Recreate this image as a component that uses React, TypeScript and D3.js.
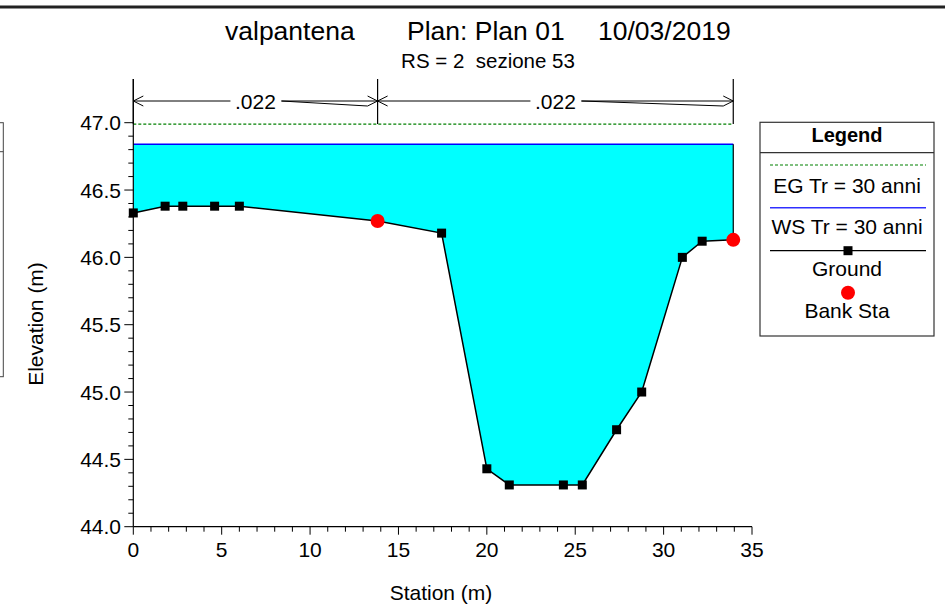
import React from "react";
import * as d3 from "d3";

const stations = [0, 1.8, 2.8, 4.6, 6.0, 13.82, 17.44, 20.0, 21.27, 24.33, 25.4, 27.34, 28.76, 31.06, 32.18, 33.94];
const elevations = [46.33, 46.38, 46.38, 46.38, 46.38, 46.27, 46.18, 44.43, 44.31, 44.31, 44.31, 44.72, 45.0, 46.0, 46.12, 46.13];
const bankStations = [13.82, 33.94];
const bankElevations = [46.27, 46.13];
const wsElevation = 46.84;
const egElevation = 46.99;
const manningStarts = [0, 13.82];
const manningEnds = [13.82, 33.94];
const manningValues = [".022", ".022"];
const xTicks = [0, 5, 10, 15, 20, 25, 30, 35];
const yTicks = [44.0, 44.5, 45.0, 45.5, 46.0, 46.5, 47.0];
const legendLabels = ["EG Tr = 30 anni", "WS Tr = 30 anni", "Ground", "Bank Sta"];

const FONT = "'Liberation Sans', Arial, sans-serif";

export default function App() {
  const x = d3.scaleLinear().domain([0, 35]).range([133.3, 752]);
  const y = d3.scaleLinear().domain([44, 47]).range([526.7, 122.7]);

  const ground = stations.map((s, i) => [s, elevations[i]] as [number, number]);
  const lineGen = d3.line<[number, number]>().x(d => x(d[0])).y(d => y(d[1]));
  const areaPts: [number, number][] = [
    [stations[0], wsElevation],
    [stations[stations.length - 1], wsElevation],
    ...ground.slice().reverse(),
  ];
  const areaPath = lineGen(areaPts) + "Z";

  const xMinor = d3.range(0, 36, 1);
  const yMinor = d3.range(0, 31).map(i => 44 + i * 0.1);

  const arrowY = 101;
  const markTop = 79;

  const lx0 = 760, lx1 = 934, lcx = (lx0 + lx1) / 2;

  return (
    <svg width={945} height={608} style={{ position: "absolute", left: 0, top: 0, background: "#fff" }} fontFamily={FONT}>
      {/* top window border */}
      <line x1={0} x2={945} y1={7} y2={7} stroke="#222" strokeWidth={3} />
      {/* cut-off panel on the left */}
      <rect x={-10} y={122.7} width={13.3} height={254} fill="none" stroke="#444" strokeWidth={1} />
      <line x1={-10} x2={3.3} y1={151.7} y2={151.7} stroke="#444" strokeWidth={1} />

      {/* titles */}
      <text x={225} y={40} fontSize={26.5}>valpantena</text>
      <text x={407} y={40} fontSize={26.5}>Plan: Plan 01</text>
      <text x={598} y={40} fontSize={26.5}>10/03/2019</text>
      <text x={488} y={68} fontSize={20.5} textAnchor="middle" style={{ whiteSpace: "pre" }}>{"RS = 2  sezione 53"}</text>

      {/* water fill */}
      <path d={areaPath} fill="#00ffff" stroke="none" />
      {/* WS line */}
      <line x1={x(stations[0])} x2={x(stations[stations.length - 1])} y1={y(wsElevation)} y2={y(wsElevation)} stroke="#0000ff" strokeWidth={1.5} />
      {/* EG line */}
      <line x1={x(stations[0])} x2={x(stations[stations.length - 1])} y1={y(egElevation)} y2={y(egElevation)} stroke="#008000" strokeWidth={1.2} strokeDasharray="3,2" />
      {/* right wall */}
      <line x1={x(stations[stations.length - 1])} x2={x(stations[stations.length - 1])} y1={y(elevations[elevations.length - 1])} y2={y(wsElevation)} stroke="#000" strokeWidth={1.2} />

      {/* Manning markers */}
      {[0, ...manningEnds].map((s, i) => (
        <line key={"mk" + i} x1={x(s)} x2={x(s)} y1={markTop} y2={y(egElevation)} stroke="#000" strokeWidth={1.2} />
      ))}
      {manningValues.map((v, i) => {
        const a = x(manningStarts[i]);
        const b = x(manningEnds[i]);
        const c = (a + b) / 2;
        return (
          <g key={"mn" + i} stroke="#000" strokeWidth={1} fill="none">
            <line x1={a} x2={c - 25} y1={arrowY} y2={arrowY} />
            <line x1={c + 26} x2={b} y1={arrowY} y2={arrowY} />
            <line x1={c + 26} x2={b - 10} y1={arrowY} y2={arrowY + 5} />
            <polyline points={`${a + 10},${arrowY - 5} ${a},${arrowY} ${a + 10},${arrowY + 5}`} />
            <polyline points={`${b - 10},${arrowY - 5} ${b},${arrowY} ${b - 10},${arrowY + 5}`} />
            <text x={c} y={arrowY + 7.5} fontSize={21} textAnchor="middle" stroke="none" fill="#000">{v}</text>
          </g>
        );
      })}

      {/* ground line */}
      <path d={lineGen(ground) || ""} fill="none" stroke="#000" strokeWidth={1.5} />
      {ground.map((d, i) => (
        <rect key={"g" + i} x={x(d[0]) - 4.5} y={y(d[1]) - 4.5} width={9} height={9} fill="#000" />
      ))}
      {bankStations.map((s, i) => (
        <circle key={"b" + i} cx={x(s)} cy={y(bankElevations[i])} r={7} fill="#ff0000" />
      ))}

      {/* axes */}
      <line x1={133.3} x2={133.3} y1={markTop} y2={526.7} stroke="#000" strokeWidth={1.2} />
      <line x1={133.3} x2={752} y1={526.7} y2={526.7} stroke="#000" strokeWidth={1.2} />
      {yMinor.map((v, i) => (
        <line key={"ym" + i} x1={133.3 - (i % 5 === 0 ? 9 : 5)} x2={133.3} y1={y(v)} y2={y(v)} stroke="#000" strokeWidth={1} />
      ))}
      {xMinor.map((v, i) => (
        <line key={"xm" + i} x1={x(v)} x2={x(v)} y1={526.7} y2={526.7 + (i % 5 === 0 ? 8 : 5)} stroke="#000" strokeWidth={1} />
      ))}
      {yTicks.map((v, i) => (
        <text key={"yt" + i} x={121} y={y(v) + 7.5} fontSize={21} textAnchor="end">{v.toFixed(1)}</text>
      ))}
      {xTicks.map((v, i) => (
        <text key={"xt" + i} x={x(v)} y={557} fontSize={21} textAnchor="middle">{v}</text>
      ))}
      <text x={441} y={600} fontSize={21} textAnchor="middle">Station (m)</text>
      <text transform="translate(43,324) rotate(-90)" fontSize={21} textAnchor="middle">Elevation (m)</text>

      {/* legend */}
      <rect x={lx0} y={122.3} width={lx1 - lx0} height={213.7} fill="#fff" stroke="#333" strokeWidth={1.2} />
      <line x1={lx0} x2={lx1} y1={152.7} y2={152.7} stroke="#333" strokeWidth={1.2} />
      <text x={lcx} y={142} fontSize={20} fontWeight="bold" textAnchor="middle">Legend</text>
      <line x1={770} x2={926} y1={165} y2={165} stroke="#008000" strokeWidth={1.2} strokeDasharray="3,2" />
      <text x={lcx} y={192.5} fontSize={21} textAnchor="middle">{legendLabels[0]}</text>
      <line x1={770} x2={926} y1={207.7} y2={207.7} stroke="#3030ff" strokeWidth={1.5} />
      <text x={lcx} y={234} fontSize={21} textAnchor="middle">{legendLabels[1]}</text>
      <line x1={770} x2={926} y1={250.7} y2={250.7} stroke="#000" strokeWidth={1.2} />
      <rect x={848 - 4.5} y={250.7 - 4.5} width={9} height={9} fill="#000" />
      <text x={lcx} y={276} fontSize={21} textAnchor="middle">{legendLabels[2]}</text>
      <circle cx={848} cy={292.7} r={7} fill="#ff0000" />
      <text x={lcx} y={318} fontSize={21} textAnchor="middle">{legendLabels[3]}</text>
    </svg>
  );
}
